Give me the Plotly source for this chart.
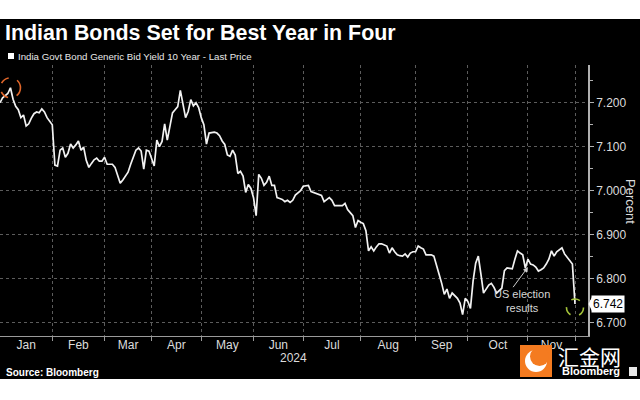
import plotly.graph_objects as go

# ---------------- data ----------------
MONTHS = ["Jan", "Feb", "Mar", "Apr", "May", "Jun", "Jul", "Aug", "Sep", "Oct", "Nov"]
YEAR_LABEL = "2024"
SERIES_NAME = "India Govt Bond Generic Bid Yield 10 Year - Last Price"
TITLE = "Indian Bonds Set for Best Year in Four"
SOURCE = "Source: Bloomberg"
Y_TICKS = [6.7, 6.8, 6.9, 7.0, 7.1, 7.2]

# daily yields (%) per trading session, grouped by month
JAN = [7.200, 7.211, 7.216, 7.221, 7.234, 7.208, 7.192, 7.184, 7.166, 7.172,
       7.147, 7.152, 7.165, 7.175, 7.179, 7.177, 7.186, 7.179, 7.166, 7.158]
FEB = [7.150, 7.058, 7.056, 7.092, 7.097, 7.076, 7.085, 7.106, 7.097, 7.104,
       7.113, 7.092, 7.099, 7.069, 7.053, 7.062, 7.070, 7.074, 7.067, 7.067]
MAR = [7.076, 7.060, 7.060, 7.060, 7.053, 7.035, 7.017, 7.024, 7.034, 7.042,
       7.060, 7.078, 7.092, 7.097, 7.090, 7.049, 7.092, 7.090]
APR = [7.074, 7.056, 7.115, 7.100, 7.112, 7.152, 7.115, 7.150, 7.177, 7.184,
       7.191, 7.228, 7.195, 7.166, 7.180, 7.207, 7.193, 7.200, 7.189]
MAY = [7.166, 7.150, 7.106, 7.131, 7.132, 7.133, 7.131, 7.125, 7.113, 7.105,
       7.081, 7.078, 7.092, 7.081, 7.039, 7.044, 7.033, 6.996, 7.014, 7.005]
JUN = [6.984, 6.943, 7.037, 7.028, 7.012, 7.019, 7.033, 7.012, 7.012, 6.984,
       6.982, 6.980, 6.975, 6.978, 6.973, 6.978, 6.990, 6.996, 7.000]
JUL = [7.010, 7.011, 7.012, 6.998, 6.996, 6.993, 6.991, 6.989, 6.975, 6.980,
       6.984, 6.978, 6.966, 6.966, 6.966, 6.966, 6.971, 6.957, 6.950, 6.943,
       6.916, 6.932]
AUG = [6.928, 6.925, 6.909, 6.863, 6.872, 6.863, 6.872, 6.879, 6.879, 6.877,
       6.874, 6.858, 6.870, 6.861, 6.854, 6.852, 6.851, 6.856, 6.849, 6.858,
       6.861]
SEP = [6.861, 6.874, 6.870, 6.867, 6.854, 6.854, 6.854, 6.851, 6.833, 6.810,
       6.789, 6.764, 6.776, 6.755, 6.767, 6.760, 6.755, 6.744, 6.718, 6.755]
OCT = [6.748, 6.732, 6.794, 6.835, 6.851, 6.810, 6.767, 6.776, 6.785, 6.789,
       6.780, 6.767, 6.772, 6.778, 6.818, 6.824, 6.823, 6.822, 6.844, 6.863,
       6.858, 6.854, 6.824]
NOV = [6.844, 6.833, 6.831, 6.826, 6.817, 6.820, 6.824, 6.833, 6.844, 6.863,
       6.851, 6.861, 6.866, 6.870, 6.856, 6.849, 6.842, 6.833]
DEC = [6.742]

ELECTION_SESSION_MONTH = "Nov"   # annotation refers to early November
ELECTION_TEXT = "US election<br>results"

# ---------------- derived series ----------------
month_lists = [JAN, FEB, MAR, APR, MAY, JUN, JUL, AUG, SEP, OCT, NOV]
values = [v for m in month_lists for v in m] + DEC
sessions = list(range(len(values)))

starts = []
c = 0
for m in month_lists:
    starts.append(c)
    c += len(m)
ends = starts[1:] + [c]
boundaries = ends                      # month boundaries (Feb 1 ... Dec 1)
mids = [(s + e) / 2 for s, e in zip(starts, ends)]

peak_idx = max(range(len(JAN)), key=lambda i: JAN[i])
last_idx = len(values) - 1
nov_start = starts[MONTHS.index(ELECTION_SESSION_MONTH)]

# ---------------- layout helpers ----------------
W, H = 640, 400
ML, MR, MT, MB = 0, 52, 65, 64
PW, PH = W - ML - MR, H - MT - MB
px_per_session = 575.0 / ends[-1]
X_RANGE = [0, PW / px_per_session]
Y_RANGE = [6.6693, 7.2858]


def pxx(p):
    return (p - ML) / PW


def pxy(p):
    return (H - MB - p) / PH


FONT = "Liberation Sans, Arial, sans-serif"
GRID = "#5c5c5c"
TXT = "#dcdcdc"

fig = go.Figure()
fig.add_trace(go.Scatter(
    x=sessions, y=values, mode="lines", name=SERIES_NAME,
    line=dict(color="#f2f2f2", width=1.7), hoverinfo="skip", showlegend=False,
))
# dummy trace so the label axis is drawn
fig.add_trace(go.Scatter(x=[None], y=[None], xaxis="x2", showlegend=False,
                         hoverinfo="skip"))

shapes = []
# white bands above and below the black card
shapes.append(dict(type="rect", xref="paper", yref="paper",
                   x0=pxx(-5), x1=pxx(650), y0=pxy(19), y1=pxy(-5),
                   fillcolor="white", line=dict(width=0), layer="above"))
shapes.append(dict(type="rect", xref="paper", yref="paper",
                   x0=pxx(-5), x1=pxx(650), y0=pxy(405), y1=pxy(379),
                   fillcolor="white", line=dict(width=0), layer="above"))
# legend square
shapes.append(dict(type="rect", xref="paper", yref="paper",
                   x0=pxx(8), x1=pxx(14), y0=pxy(59), y1=pxy(53),
                   fillcolor="white", line=dict(width=0)))
# dashed circles
shapes.append(dict(type="circle", xref="x", yref="y", xsizemode="pixel",
                   ysizemode="pixel", xanchor=peak_idx, yanchor=JAN[peak_idx],
                   x0=-10, x1=10, y0=-10, y1=10,
                   line=dict(color="#e0662a", width=1.6, dash="dash")))
shapes.append(dict(type="circle", xref="x", yref="y", xsizemode="pixel",
                   ysizemode="pixel", xanchor=last_idx, yanchor=values[-1],
                   x0=-8.5, x1=8.5, y0=-12, y1=5,
                   line=dict(color="#a5c43a", width=1.6, dash="dash")))
# pointer of the last value label
shapes.append(dict(type="path", xref="paper", yref="y",
                   path=f"M {pxx(588.5)} {values[-1]} L {pxx(592)} {values[-1] + 0.016} "
                        f"L {pxx(592)} {values[-1] - 0.016} Z",
                   fillcolor="white", line=dict(width=0)))
# watermark logo
shapes.append(dict(type="rect", xref="paper", yref="paper",
                   x0=pxx(520), x1=pxx(552), y0=pxy(377), y1=pxy(345),
                   fillcolor="#f47b20", line=dict(width=0), layer="above"))
shapes.append(dict(type="circle", xref="paper", yref="paper",
                   x0=pxx(525), x1=pxx(547), y0=pxy(372), y1=pxy(350),
                   fillcolor="white", line=dict(width=0), layer="above"))
shapes.append(dict(type="circle", xref="paper", yref="paper",
                   x0=pxx(530), x1=pxx(549), y0=pxy(366), y1=pxy(347),
                   fillcolor="#f47b20", line=dict(width=0), layer="above"))
shapes.append(dict(type="rect", xref="paper", yref="paper",
                   x0=pxx(629), x1=pxx(637), y0=pxy(376), y1=pxy(367),
                   fillcolor="#e8e8e8", line=dict(width=0), layer="above"))

annotations = [
    dict(text=SERIES_NAME, xref="paper", yref="paper", x=pxx(16), y=pxy(56),
         xanchor="left", yanchor="middle", showarrow=False,
         font=dict(family=FONT, size=9.7, color="#e8e8e8")),
    dict(text=YEAR_LABEL, xref="paper", yref="paper", x=pxx(293), y=pxy(358),
         xanchor="center", yanchor="middle", showarrow=False,
         font=dict(family=FONT, size=12, color=TXT)),
    dict(text="<b>" + SOURCE + "</b>", xref="paper", yref="paper", x=pxx(4),
         y=pxy(372), xanchor="left", yanchor="middle", showarrow=False,
         font=dict(family=FONT, size=10, color="white")),
    dict(text="Percent", xref="paper", yref="paper", x=pxx(631), y=pxy(201),
         xanchor="center", yanchor="middle", showarrow=False, textangle=90,
         font=dict(family=FONT, size=13, color=TXT)),
    dict(text=f"{values[-1]:.3f}", xref="paper", yref="y",
         x=pxx(591), y=values[-1], xanchor="left", yanchor="middle",
         showarrow=False, bgcolor="white", borderpad=1,
         font=dict(family=FONT, size=12, color="black")),
    # election arrow
    dict(text="", x=nov_start, y=6.826, xref="x", yref="y",
         ax=nov_start - 6.1, ay=6.777, axref="x", ayref="y",
         showarrow=True, arrowhead=2, arrowsize=1, arrowwidth=1,
         arrowcolor="#cfcfcf"),
    dict(text=ELECTION_TEXT, x=nov_start - 2.3, y=6.748, xref="x", yref="y",
         showarrow=False, xanchor="center", yanchor="middle",
         font=dict(family=FONT, size=11, color="#d6d6d6")),
    # watermark text
    dict(text="汇金网", xref="paper", yref="paper", x=pxx(590), y=pxy(356),
         xanchor="center", yanchor="middle", showarrow=False,
         font=dict(family="Noto Sans CJK SC", size=21, color="white")),
    dict(text="<b>Bloomberg</b>", xref="paper", yref="paper", x=pxx(591),
         y=pxy(371), xanchor="center", yanchor="middle", showarrow=False,
         font=dict(family=FONT, size=11, color="white")),
]

fig.update_layout(
    width=W, height=H,
    margin=dict(l=ML, r=MR, t=MT, b=MB, pad=0),
    paper_bgcolor="black", plot_bgcolor="black",
    showlegend=False,
    title=dict(text="<b>" + TITLE + "</b>", x=5 / W, xanchor="left",
               xref="container", y=1 - 33 / H, yanchor="middle", yref="container",
               font=dict(family=FONT, size=21.4, color="white")),
    xaxis=dict(range=X_RANGE, tickvals=boundaries, showticklabels=False,
               ticks="outside", ticklen=4, tickcolor="#9a9a9a",
               showgrid=True, gridcolor=GRID, griddash="dot", gridwidth=1,
               showline=True, linecolor="#9a9a9a", linewidth=1,
               zeroline=False, fixedrange=True),
    xaxis2=dict(range=X_RANGE, overlaying="x", side="bottom", anchor="y",
                tickvals=mids, ticktext=MONTHS, ticks="", showgrid=False,
                showline=False, zeroline=False,
                tickfont=dict(family=FONT, size=12, color=TXT)),
    yaxis=dict(range=Y_RANGE, side="right", tickvals=Y_TICKS,
               ticktext=[f"{t:.3f}" for t in Y_TICKS],
               ticks="outside", ticklen=4, tickcolor="#b0b0b0",
               minor=dict(dtick=0.05, tick0=6.65, ticks="outside", ticklen=3,
                          tickcolor="#b0b0b0", showgrid=False),
               showgrid=True, gridcolor=GRID, griddash="dot", gridwidth=1,
               showline=True, linecolor="#b0b0b0", linewidth=1.5,
               zeroline=False,
               tickfont=dict(family=FONT, size=12, color=TXT)),
    shapes=shapes,
    annotations=annotations,
)

fig.write_html(
    "out.html",
    config={"displayModeBar": False},
    post_script="document.body.style.margin='0';document.body.style.padding='0';",
)
